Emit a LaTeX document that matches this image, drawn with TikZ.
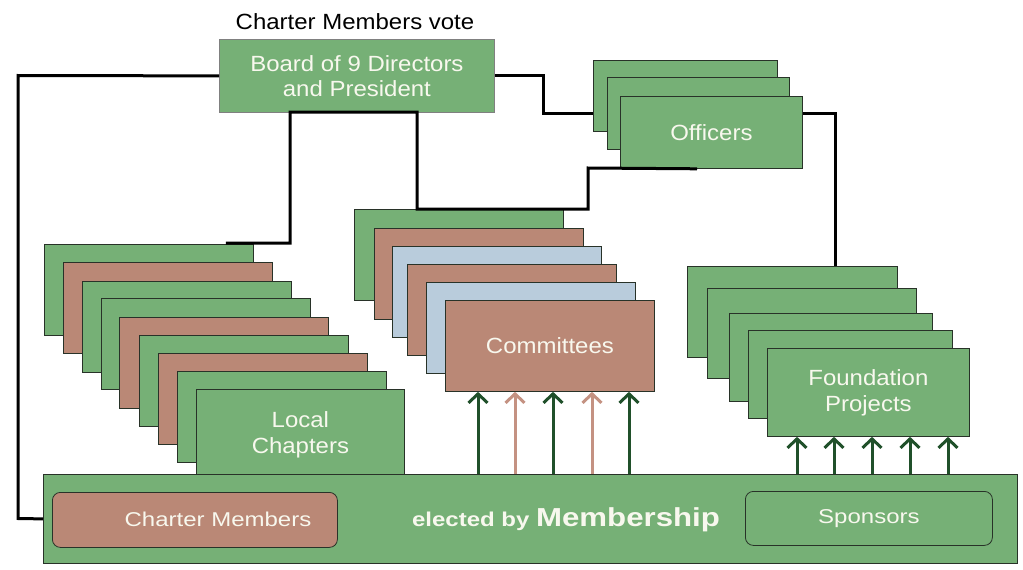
\documentclass[tikz,border=0pt]{standalone}
\usepackage{fontspec}
\setmainfont{Liberation Sans}[FakeStretch=1.09]
\newfontfamily\barfont{Liberation Sans}[FakeStretch=1.2]
\usetikzlibrary{arrows.meta,calc}
\definecolor{grn}{RGB}{118,176,118}
\definecolor{brn}{RGB}{186,136,118}
\definecolor{blu}{RGB}{185,204,220}
\definecolor{dgrn}{RGB}{32,80,42}
\definecolor{pnk}{RGB}{196,146,130}
\definecolor{edge}{RGB}{40,50,40}
\definecolor{txt}{RGB}{248,248,238}
\begin{document}
\begin{tikzpicture}[x=1pt,y=-1pt,
  card/.style={draw=edge,line width=0.8pt,anchor=north west,inner sep=0pt,
    minimum width=209pt,minimum height=91pt,text=txt,align=center,
    font=\fontsize{22}{26}\selectfont},
  conn/.style={draw=black,line width=3pt},
  garr/.style={draw=dgrn,line width=3pt,-{Straight Barb[length=9pt,width=19pt]}},
  parr/.style={draw=pnk,line width=3pt,-{Straight Barb[length=9pt,width=19pt]}},
  rbox/.style={draw=edge,line width=0.8pt,rounded corners=8pt,anchor=north west,inner sep=0pt,
    text=txt,font=\barfont\fontsize{20}{24}\selectfont}]
\useasboundingbox (0,0) rectangle (1023,570);

% Local chapters
\node[card,fill=grn] (lc1) at (44,244) {};
\node[card,fill=brn] (lc2) at (63,262) {};
\node[card,fill=grn] (lc3) at (82,281) {};
\node[card,fill=grn] (lc4) at (101,298) {};
\node[card,fill=brn] (lc5) at (119,317) {};
\node[card,fill=grn] (lc6) at (139,335) {};
\node[card,fill=brn] (lc7) at (158,353) {};
\node[card,fill=grn] (lc8) at (177,371) {};
\node[card,fill=grn,minimum width=208pt] (lc9) at (196,389) {Local\\Chapters};

% Committees
\node[card,fill=grn] (com1) at (354,209) {};
\node[card,fill=brn] (com2) at (374,228) {};
\node[card,fill=blu] (com3) at (392,246) {};
\node[card,fill=brn] (com4) at (407,264) {};
\node[card,fill=blu] (com5) at (426,282) {};
\node[card,fill=brn] (com6) at (445,300) {Committees};

% Foundation projects
\node[card,fill=grn,minimum width=210pt] (fp1) at (687,266) {};
\node[card,fill=grn,minimum height=90pt] (fp2) at (707,288) {};
\node[card,fill=grn,minimum width=203pt,minimum height=88pt] (fp3) at (729,313) {};
\node[card,fill=grn,minimum width=204pt,minimum height=88pt] (fp4) at (748,330) {};
\node[card,fill=grn,minimum width=202pt,minimum height=88pt] (fp5) at (767,348) {Foundation\\Projects};

% Officers
\node[card,fill=grn,minimum width=184pt,minimum height=71pt] (off1) at (593,60) {};
\node[card,fill=grn,minimum width=182pt,minimum height=72pt] (off2) at (607,77) {};
\node[card,fill=grn,minimum width=182pt,minimum height=72pt] (off3) at (620,96) {Officers};

% Board
\node[card,fill=grn,minimum width=275pt,minimum height=73pt,draw=gray] (board) at (219,39)
  {Board of 9 Directors\\[-1pt]and President};
\node[font=\fontsize{22}{26}\selectfont,inner sep=0pt] (vote) at (355,22) {Charter Members vote};

% Membership bar
\node[draw=edge,line width=0.8pt,fill=grn,anchor=north west,inner sep=0pt,
  minimum width=974pt,minimum height=89pt] (bar) at (43,474) {};
\node[rbox,fill=brn,minimum width=285pt,minimum height=55pt] (cm) at (52,492) {};
\node[text=txt,font=\barfont\fontsize{20}{24}\selectfont,inner sep=0pt] (cmt) at (218,519) {Charter Members};
\node[rbox,fill=grn,minimum width=247pt,minimum height=54pt] (sp) at (745,491) {Sponsors};
\node[text=txt,inner sep=0pt] (mem) at (566,520)
  {\barfont\bfseries\fontsize{20}{24}\selectfont elected by \fontsize{26}{30}\selectfont Membership};

% Connectors
\draw[conn] (board.west) -- (18,75.5) -- (18,518.5) -- (bar.west);
\draw[conn] (board.east) -| (543,113) -- ($(off1.north west)+(0,53)$);
\draw[conn] ($(lc1.north east)+(-28,-1)$) -- (290,243) -- (290,112) -- (417,112)
  -- (417,209) -- (588,209) -- (588,168) -- ($(off3.south west)+(77,0)$);
\draw[conn] ($(off3.north east)+(0,17)$) -| ($(fp1.north west)+(148,0)$);

% Arrows
\foreach \dx/\st in {33/garr,70/parr,108/garr,147/parr,184/garr}{
  \path ($(com6.south west)+(\dx,0)$) coordinate (t);
  \draw[\st] (t |- bar.north) -- (t);
}
\foreach \dx in {30,67,105,143,181}{
  \path ($(fp5.south west)+(\dx,0)$) coordinate (t);
  \draw[garr] (t |- bar.north) -- (t);
}
\end{tikzpicture}
\end{document}
